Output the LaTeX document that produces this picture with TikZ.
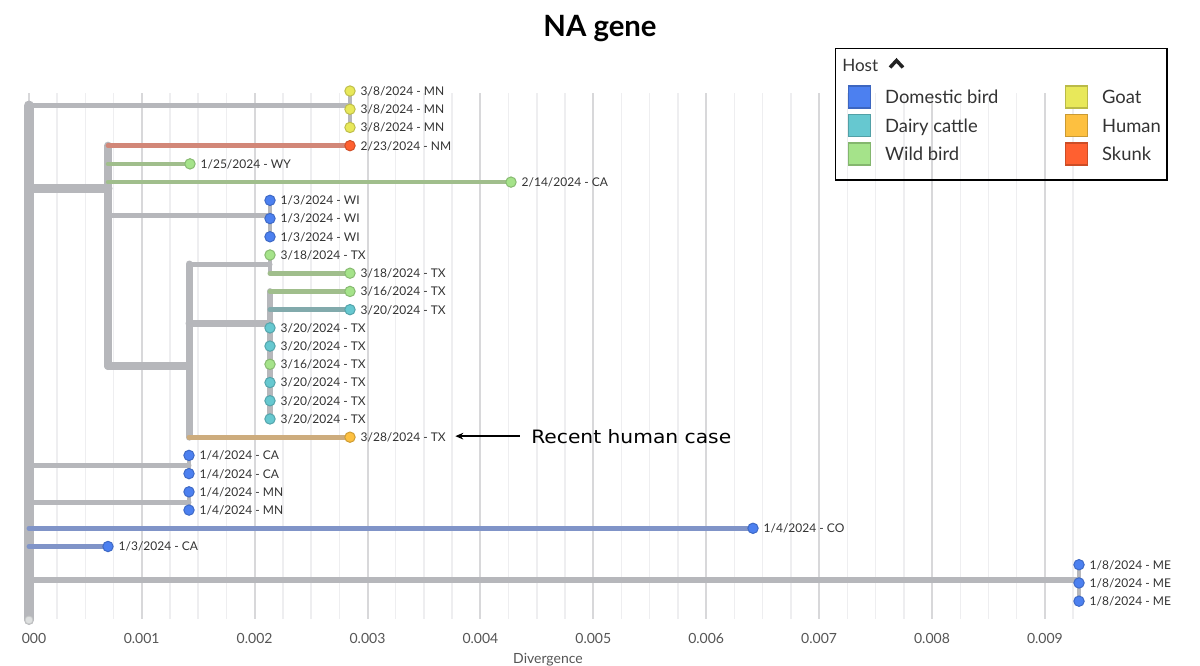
\documentclass[tikz,border=0pt]{standalone}
\usepackage{fontspec}
\setmainfont{Lato}
\newfontfamily\notefont[FakeStretch=1.1]{DejaVu Sans}
\usetikzlibrary{arrows.meta,positioning}
\definecolor{domestic}{RGB}{76,128,240}
\definecolor{cattle}{RGB}{102,200,208}
\definecolor{wild}{RGB}{165,227,138}
\definecolor{goat}{RGB}{232,232,90}
\definecolor{human}{RGB}{253,192,64}
\definecolor{skunk}{RGB}{255,96,48}
\definecolor{branch}{RGB}{182,183,187}
\definecolor{brskunk}{RGB}{210,135,120}
\definecolor{brwild}{RGB}{160,190,140}
\definecolor{brcattle}{RGB}{130,170,172}
\definecolor{brhuman}{RGB}{205,172,125}
\definecolor{brdomestic}{RGB}{128,148,200}
\definecolor{labelgray}{RGB}{51,51,51}
\definecolor{axisgray}{RGB}{85,85,85}
\def\tiplist{350/goat/3/8/MN, 350/goat/3/8/MN, 350/goat/3/8/MN,
  350/skunk/2/23/NM, 190/wild/1/25/WY, 511/wild/2/14/CA,
  270/domestic/1/3/WI, 270/domestic/1/3/WI, 270/domestic/1/3/WI,
  270/wild/3/18/TX, 350/wild/3/18/TX, 350/wild/3/16/TX, 350/cattle/3/20/TX,
  270/cattle/3/20/TX, 270/cattle/3/20/TX, 270/wild/3/16/TX,
  270/cattle/3/20/TX, 270/cattle/3/20/TX, 270/cattle/3/20/TX,
  350/human/3/28/TX,
  189/domestic/1/4/CA, 189/domestic/1/4/CA, 189/domestic/1/4/MN, 189/domestic/1/4/MN,
  753/domestic/1/4/CO, 108/domestic/1/3/CA,
  1079/domestic/1/8/ME, 1079/domestic/1/8/ME, 1079/domestic/1/8/ME}
\begin{document}
\begin{tikzpicture}[x=0.75pt,y=-0.75pt,
  br/.style={draw=branch,line cap=round},
  minorgrid/.style={draw={rgb,255:red,238;green,238;blue,240},line width=1.1pt},
  majorgrid/.style={draw={rgb,255:red,216;green,216;blue,218},line width=1.5pt},
  tip/.style={circle,fill=#1,draw=#1!82!black,line width=0.75pt,inner sep=0pt,minimum size=7.8pt},
  lbl/.style={anchor=base west,inner sep=0pt,text=labelgray,font=\fontsize{9}{11}\selectfont},
  ticklbl/.style={anchor=base,inner sep=0pt,text=axisgray,font=\fontsize{10.5}{12}\selectfont},
  keybox/.style={fill=#1,draw=#1!80!black,line width=1.4pt,inner sep=0pt,minimum size=16.5pt},
  keylbl/.style={anchor=base west,inner sep=0pt,text=labelgray,font=\fontsize{13.8}{16}\selectfont}]
\useasboundingbox (0,0) rectangle (1200,665);
\node[anchor=base,font=\bfseries\fontsize{22}{26}\selectfont] (title) at (600,36) {NA gene};
\foreach \k in {0,...,37}
{ \draw[minorgrid] ({28.8+\k*28.225},93)--({28.8+\k*28.225},619);
}
\foreach \v in {0,...,9}
{ \draw[majorgrid] ({28.8+\v*112.9},93)--({28.8+\v*112.9},619);
}
\node[ticklbl] (x0) at (34,643) {000};
\foreach \v in {1,...,9}
{ \node[ticklbl] (x\v) at ({28.8+\v*112.9},643) {0.00\v};
}
\node[ticklbl] (xlabel) at (548,663) {Divergence};
\foreach \x/\c/\m/\d/\s [count=\i] in \tiplist
{ \coordinate (t\i) at (\x,{91+(\i-1)*18.22});
}
\coordinate (root) at (29,620);
\coordinate (nG) at (350,105.5);
\coordinate (nA) at (108,188);
\coordinate (nWI) at (270,215);
\coordinate (nTX) at (189,366);
\coordinate (nT1) at (270,264);
\coordinate (nT2) at (270,323);
\coordinate (nCA) at (189,465);
\coordinate (nMN) at (189,502);
\coordinate (nME) at (1079,580);
\draw[br,line width=7.5pt] (root)--(root |- nG);
\draw[br,line width=6pt] (nA |- t4)--(nA |- nTX);
\draw[br,line width=5.25pt] (nTX |- nT1)--(nTX |- t20);
\draw[br,line width=4.9pt] (nT2 |- t12)--(nT2 |- t19);
\draw[br,line width=3pt] (t10)--(nT1 |- t11);
\draw[br,line width=3pt] (t7)--(t9);
\draw[br,line width=3pt] (t1)--(t3);
\draw[br,line width=3pt] (t21)--(t22);
\draw[br,line width=3pt] (t23)--(t24);
\draw[br,line width=3.4pt] (t27)--(t29);
\draw[br,line width=4.1pt] (nG -| root)--(nG);
\draw[br,line width=6.75pt] (nA -| root)--(nA);
\draw[br,draw=brskunk,line width=3.6pt] (t4 -| nA)--(t4);
\draw[br,draw=brwild,line width=3.4pt] (t5 -| nA)--(t5);
\draw[br,draw=brwild,line width=3.4pt] (t6 -| nA)--(t6);
\draw[br,line width=3.75pt] (nWI -| nA)--(nWI);
\draw[br,line width=6pt] (nTX -| nA)--(nTX);
\draw[br,line width=3.75pt] (nT1 -| nTX)--(nT1);
\draw[br,draw=brwild,line width=3.75pt] (t11 -| nT1)--(t11);
\draw[br,line width=5.25pt] (nT2 -| nTX)--(nT2);
\draw[br,draw=brwild,line width=3.75pt] (t12 -| nT2)--(t12);
\draw[br,draw=brcattle,line width=3.75pt] (t13 -| nT2)--(t13);
\draw[br,draw=brhuman,line width=3.75pt] (t20 -| nTX)--(t20);
\draw[br,line width=3.75pt] (nCA -| root)--(nCA);
\draw[br,line width=3.75pt] (nMN -| root)--(nMN);
\draw[br,draw=brdomestic,line width=3.75pt] (t25 -| root)--(t25);
\draw[br,draw=brdomestic,line width=3.75pt] (t26 -| root)--(t26);
\draw[br,line width=4.1pt] (nME -| root)--(nME);
\node[circle,fill={rgb,255:red,222;green,224;blue,224},draw={rgb,255:red,196;green,198;blue,198},line width=0.6pt,inner sep=0pt,minimum size=6pt] (rootdot) at (root) {};
\foreach \x/\c/\m/\d/\s [count=\i] in \tiplist
{ \node[tip=\c] (c\i) at (t\i) {};
  \node[lbl] (l\i) at ([xshift=7.8pt,yshift=-3.3pt]t\i) {\m/\d/2024 - \s};
}
\node[anchor=base west,inner sep=0pt,font=\notefont\fontsize{13.8}{16}\selectfont] (note) at (531,443) {Recent human case};
\draw[-{Stealth[length=6pt,width=5pt]},line width=1.1pt,shorten <=8.5pt,shorten >=7pt] (note.west)--(note.west -| l20.east);
\draw[line width=1pt] (835.5,48.5) rectangle (1167,180);
\node[keylbl,font=\fontsize{12.8}{15}\selectfont] (host) at (842,71) {Host};
\draw[line width=2.6pt,draw={rgb,255:red,34;green,34;blue,34}] (890,67.5)--(896.5,60.5)--(903,67.5);
\foreach \c/\txt [count=\r] in {domestic/Domestic bird,cattle/Dairy cattle,wild/Wild bird}
{ \node[keybox=\c] (k\r) at (859.5,{97+(\r-1)*28.5}) {};
  \node[keylbl] (kl\r) at ([xshift=19pt,yshift=-5pt]k\r.center) {\txt};
}
\foreach \c/\txt [count=\r] in {goat/Goat,human/Human,skunk/Skunk}
{ \node[keybox=\c] (g\r) at (1076.5,{97+(\r-1)*28.5}) {};
  \node[keylbl] (gl\r) at ([xshift=19pt,yshift=-5pt]g\r.center) {\txt};
}
\end{tikzpicture}
\end{document}
